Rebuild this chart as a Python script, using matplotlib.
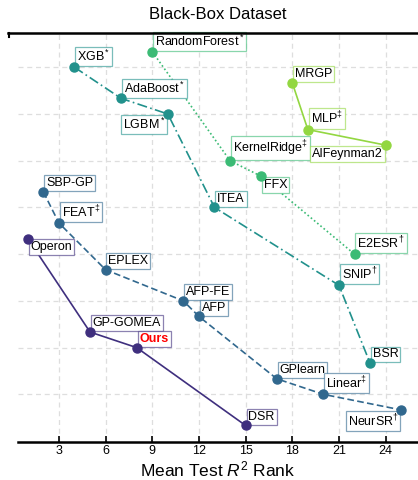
import matplotlib
matplotlib.use('Agg')
import matplotlib.pyplot as plt
from matplotlib.colors import to_rgba
from matplotlib.lines import Line2D

plt.rcParams['font.family'] = ['Liberation Sans', 'DejaVu Sans']
plt.rcParams['mathtext.fontset'] = 'custom'
plt.rcParams['mathtext.rm'] = 'Liberation Sans'
plt.rcParams['mathtext.it'] = 'Liberation Sans:italic'

# Pareto fronts: method names, mean test R2 rank (x), size rank (y)
front1_names = ['Operon', 'GP-GOMEA', 'Ours', 'DSR']
front1_x = [1, 5, 8, 15]
front1_y = [13, 7, 6, 1]

front2_names = ['SBP-GP', 'FEAT$^{‡}$', 'EPLEX', 'AFP-FE', 'AFP', 'GPlearn',
                'Linear$^{‡}$', 'NeurSR$^{†}$']
front2_x = [2, 3, 6, 11, 12, 17, 20, 25]
front2_y = [16, 14, 11, 9, 8, 4, 3, 2]

front3_names = ['XGB$^*$', 'AdaBoost$^*$', 'LGBM$^*$', 'ITEA', 'SNIP$^{†}$', 'BSR']
front3_x = [4, 7, 10, 13, 21, 23]
front3_y = [24, 22, 21, 15, 10, 5]

front4_names = ['RandomForest$^*$', 'KernelRidge$^{‡}$', 'FFX', 'E2ESR$^{†}$']
front4_x = [9, 14, 16, 22]
front4_y = [25, 18, 17, 12]

front5_names = ['MRGP', 'MLP$^{‡}$', 'AIFeynman2']
front5_x = [18, 19, 24]
front5_y = [23, 20, 19]

fronts = [
    (front1_names, front1_x, front1_y, '#3f2f7e', '-'),
    (front2_names, front2_x, front2_y, '#31688e', (0, (4, 2))),
    (front3_names, front3_x, front3_y, '#21918c', (0, (6, 2, 1, 2))),
    (front4_names, front4_x, front4_y, '#3bbb75', (0, (1, 1.5))),
    (front5_names, front5_x, front5_y, '#93d741', '-'),
]

# labels placed below-left / below-right instead of upper-right
below_left = ['LGBM$^*$', 'AIFeynman2', 'NeurSR$^{†}$']
below_right = ['Operon', 'FFX']

fig = plt.figure(figsize=(4.18, 4.80), dpi=100)
ax = fig.add_axes([18 / 418, 38 / 480, 400 / 418, 409 / 480])

for names, xs, ys, color, ls in fronts:
    ax.plot(xs, ys, color=color, linestyle=ls, linewidth=1.2, zorder=2)
    ax.plot(xs, ys, 'o', color=color, markersize=6.5, zorder=5)
    for name, x, y in zip(names, xs, ys):
        if name in below_left:
            off, ha, va = (-2, -2), 'right', 'top'
        elif name in below_right:
            off, ha, va = (2, -2), 'left', 'top'
        else:
            off, ha, va = (2, 2), 'left', 'bottom'
        if name == 'Ours':
            tcolor, weight = 'red', 'bold'
        else:
            tcolor, weight = 'black', 'normal'
        ax.annotate(name, (x, y), xytext=off, textcoords='offset points',
                    ha=ha, va=va, fontsize=9, color=tcolor, fontweight=weight,
                    bbox=dict(boxstyle='square,pad=0.15', facecolor='white',
                              edgecolor=to_rgba(color, 0.6), linewidth=0.9),
                    zorder=4)

ax.set_xlim(0.37, 26.08)
ax.set_ylim(-0.06, 26.2)
ax.set_xticks([3, 6, 9, 12, 15, 18, 21, 24])
ax.set_yticks([3, 6, 9, 12, 15, 18, 21, 24])
ax.set_yticklabels([])
ax.tick_params(axis='x', direction='in', length=4, width=1.2, labelsize=9, pad=2)
ax.tick_params(axis='y', length=0)
ax.grid(True, color='#dedede', linestyle=(0, (4, 3)), linewidth=0.9)
ax.set_axisbelow(True)
for side in ['left', 'right', 'top']:
    ax.spines[side].set_visible(False)
ax.spines['bottom'].set_linewidth(1.8)

ax.set_xlabel('Mean Test $R^2$ Rank', fontsize=12.5, labelpad=2)
ax.set_title('Black-Box Dataset', fontsize=12, pad=10)

# top rule
fig.add_artist(Line2D([8 / 418, 1.0], [447 / 480, 447 / 480],
                      transform=fig.transFigure, color='black', linewidth=1.8))
fig.add_artist(Line2D([9 / 418, 9 / 418], [447 / 480, 443 / 480],
                      transform=fig.transFigure, color='black', linewidth=1.5))

fig.savefig('out.png', dpi=100)
